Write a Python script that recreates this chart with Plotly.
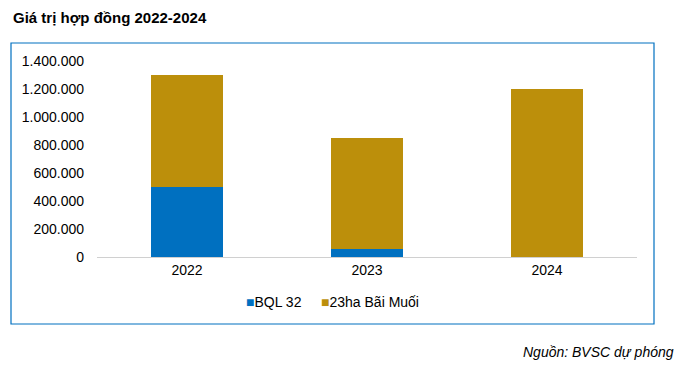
import plotly.graph_objects as go

years = ["2022", "2023", "2024"]
bql32 = [500000, 60000, 0]
bai_muoi = [800000, 790000, 1200000]
series_names = ["BQL 32", "23ha Bãi Muối"]
series_colors = ["#0070C0", "#BC8F0B"]
tick_vals = [0, 200000, 400000, 600000, 800000, 1000000, 1200000, 1400000]
tick_text = ["0", "200.000", "400.000", "600.000", "800.000", "1.000.000", "1.200.000", "1.400.000"]

FONT = "Liberation Sans, Arial, sans-serif"
W, H = 690, 366
L, R, T, B = 97, 53, 61, 109
pw, ph = W - L - R, H - T - B

def px(x):
    return (x - L) / pw

def py(y):
    return (H - B - y) / ph

fig = go.Figure()
fig.add_trace(go.Bar(x=years, y=bql32, name=series_names[0], marker_color=series_colors[0],
                     marker_line_width=0, showlegend=False))
fig.add_trace(go.Bar(x=years, y=bai_muoi, name=series_names[1], marker_color=series_colors[1],
                     marker_line_width=0, showlegend=False))

legend_x = [244, 319]
legend_ann = [
    dict(text=f"<span style='color:{c}'>■</span>{n}", xref="paper", yref="paper",
         x=px(x), y=py(302), xanchor="left", yanchor="middle", showarrow=False,
         font=dict(size=14, family=FONT, color="#000000"))
    for n, c, x in zip(series_names, series_colors, legend_x)
]

fig.update_layout(
    barmode="stack",
    bargap=0.6,
    width=W, height=H,
    margin=dict(l=L, r=R, t=T, b=B, pad=0),
    paper_bgcolor="white", plot_bgcolor="white",
    font=dict(family=FONT, size=14, color="#000000"),
    showlegend=False,
    xaxis=dict(showgrid=False, showline=True, linecolor="#D0D0D0", linewidth=1,
               ticks="", tickfont=dict(size=14), fixedrange=True),
    yaxis=dict(range=[0, 1400000], tickvals=tick_vals, ticktext=tick_text,
               showgrid=False, showline=False, zeroline=False, ticks="",
               tickfont=dict(size=14), ticklabelstandoff=12, fixedrange=True),
    shapes=[dict(type="rect", xref="paper", yref="paper",
                 x0=px(11), x1=px(654), y0=py(324), y1=py(43),
                 line=dict(color="#0070C0", width=1.2), fillcolor="rgba(0,0,0,0)")],
    annotations=[
        dict(text="<b>Giá trị hợp đồng 2022-2024</b>", xref="paper", yref="paper",
             x=px(11), y=py(18), xanchor="left", yanchor="middle", showarrow=False,
             font=dict(size=15, family=FONT)),
        dict(text="<i>Nguồn: BVSC dự phóng</i>", xref="paper", yref="paper",
             x=px(676), y=py(352), xanchor="right", yanchor="middle", showarrow=False,
             font=dict(size=14, family=FONT)),
    ] + legend_ann,
)

fig.write_html("out.html", config={"displayModeBar": False},
               post_script="document.body.style.margin='0';document.body.style.overflow='hidden';")
